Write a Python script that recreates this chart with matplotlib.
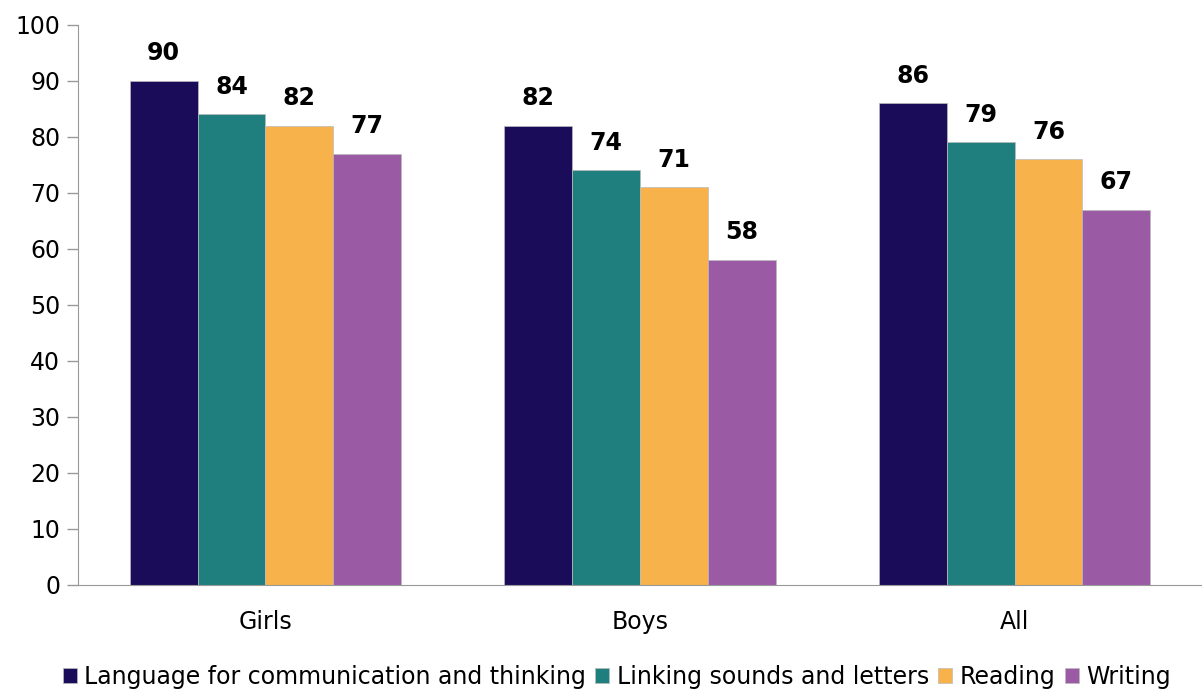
import matplotlib.pyplot as plt
import numpy as np

categories = ["Girls", "Boys", "All"]
series_names = ["Language for communication and thinking",
                "Linking sounds and letters", "Reading", "Writing"]
language = [90, 82, 86]
linking = [84, 74, 79]
reading = [82, 71, 76]
writing = [77, 58, 67]
colors = ["#1A0C59", "#1F7F7F", "#F7B24C", "#9A5BA4"]

plt.rcParams['font.family'] = ['DejaVu Sans']

fig = plt.figure(figsize=(12.02, 6.89), dpi=100)
ax = fig.add_axes([0.065, 0.151, 0.935, 0.813])

x = np.arange(len(categories))
width = 0.181
values = [language, linking, reading, writing]
for i, (name, vals) in enumerate(zip(series_names, values)):
    pos = x + (i - 1.5) * width
    bars = ax.bar(pos, vals, width, color=colors[i], label=name,
                  edgecolor="#BBBBBB", linewidth=0.5)
    for b, v in zip(bars, vals):
        ax.text(b.get_x() + b.get_width() / 2, v + 2.8, str(v),
                ha="center", va="bottom", fontsize=17, fontweight="bold")

ax.set_xlim(-0.5, 2.5)
ax.set_ylim(0, 100)
ax.set_yticks(range(0, 101, 10))
ax.set_xticks(x)
ax.set_xticklabels(categories)
ax.tick_params(axis="y", labelsize=17, length=8, color="#999999", width=1, pad=5)
ax.tick_params(axis="x", labelsize=17, length=0, pad=18)
for side in ["top", "right"]:
    ax.spines[side].set_visible(False)
for side in ["left", "bottom"]:
    ax.spines[side].set_color("#999999")

fig.legend(loc="lower center", bbox_to_anchor=(0.513, -0.031), ncol=4,
           frameon=False, fontsize=17, handlelength=0.6, handleheight=0.6,
           handletextpad=0.3, columnspacing=0.4)

fig.savefig("out.png", dpi=100)
